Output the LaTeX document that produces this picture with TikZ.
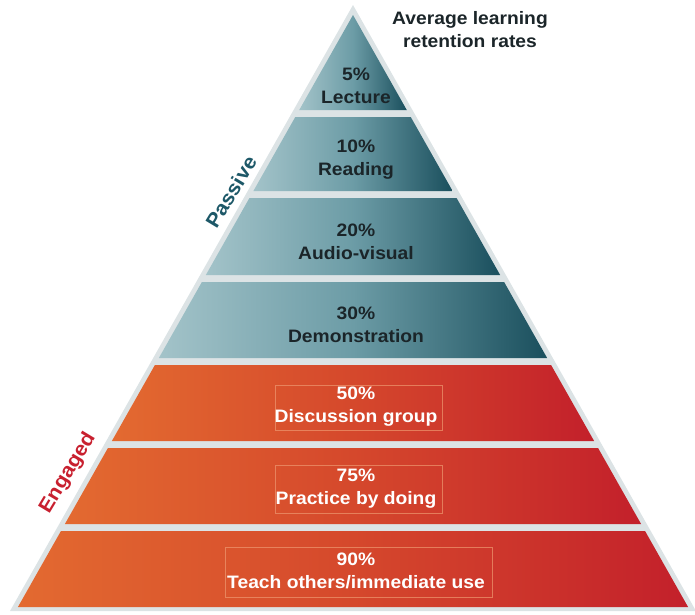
\documentclass[tikz,border=0pt]{standalone}
\usepackage{fontspec}
\setmainfont[FakeStretch=1.07]{Liberation Sans}
\begin{document}
\begin{tikzpicture}[x=1pt,y=-1pt,
  tealband/.style={left color=tealL, right color=tealR, middle color=tealM},
  redband/.style={left color=redL, right color=redR, middle color=redM},
  lbl/.style={align=center, font=\fontsize{18}{23}\selectfont\bfseries, inner sep=0pt},
  dark/.style={lbl, text=txtdark},
  light/.style={lbl, text=white},
  side/.style={font=\fontsize{20}{24}\selectfont\bfseries, rotate=59, inner sep=0pt},
  tbox/.style={draw=boxc, line width=0.5pt, draw opacity=0.7}]
\definecolor{tealL}{HTML}{A3C3C9}
\definecolor{tealM}{HTML}{6C9CA6}
\definecolor{tealR}{HTML}{1A4F5D}
\definecolor{redL}{HTML}{E36A30}
\definecolor{redM}{HTML}{D5482C}
\definecolor{redR}{HTML}{C3202B}
\definecolor{txtdark}{HTML}{1B2529}
\definecolor{boxc}{HTML}{EE9870}
\definecolor{passc}{HTML}{1D5868}
\definecolor{engc}{HTML}{C8202F}
\definecolor{rimc}{HTML}{DCE3E5}
\useasboundingbox (0,0) rectangle (695,614);
\newcommand\pyrband[3]{%
  \pgfmathsetmacro\pbA{353-0.566*(#1-15)}%
  \pgfmathsetmacro\pbB{353+0.566*(#1-15)}%
  \pgfmathsetmacro\pbC{353+0.566*(#2-15)}%
  \pgfmathsetmacro\pbD{353-0.566*(#2-15)}%
  \shade[#3] (\pbA,#1) -- (\pbB,#1) -- (\pbC,#2) -- (\pbD,#2) -- cycle;}
% rim of the pyramid
\fill[rimc] (353,5) -- (696,611) -- (10,611) -- cycle;
% bands
\pyrband{15}{110}{tealband}
\pyrband{117}{191}{tealband}
\pyrband{198}{275}{tealband}
\pyrband{282}{358}{tealband}
\pyrband{365}{441}{redband}
\pyrband{448}{524}{redband}
\pyrband{531}{607}{redband}
% text boxes in red bands
\draw[tbox] (275,385) rectangle (442,430);
\draw[tbox] (275,465) rectangle (442,513);
\draw[tbox] (225,547) rectangle (492,597);
% labels
\node[dark] (lecture) at (356,86) {5\%\\Lecture};
\node[dark] (reading) at (356,160) {10\%\\Reading};
\node[dark] (audio) at (356,242) {20\%\\Audio-visual};
\node[dark] (demo) at (356,325) {30\%\\Demonstration};
\node[light] (discuss) at (356,407) {50\%\\Discussion group};
\node[light] (practice) at (356,489) {75\%\\Practice by doing};
\node[light] (teach) at (356,571) {90\%\\Teach others/immediate use};
\node[lbl, text=txtdark] (title) at (470,30) {Average learning\\retention rates};
\node[side, text=passc] (passive) at (231,192) {Passive};
\node[side, text=engc] (engaged) at (68,473) {Engaged};
\end{tikzpicture}
\end{document}
